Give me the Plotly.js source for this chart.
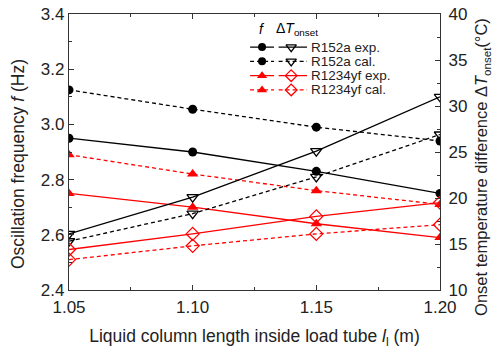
<!DOCTYPE html>
<html><head><meta charset="utf-8">
<script src="https://cdn.plot.ly/plotly-3.0.1.min.js"></script>
<style>body{margin:0;background:#fff}#c{width:493px;height:356px}</style>
</head><body><div id="c"></div>
<script>
const lengths = [1.05, 1.10, 1.15, 1.20];
const fR152aExp = [2.95, 2.90, 2.83, 2.75];
const fR152aCal = [3.125, 3.055, 2.99, 2.94];
const fR1234yfExp = [2.75, 2.70, 2.64, 2.59];
const fR1234yfCal = [2.89, 2.82, 2.76, 2.71];
const dTR152aExp = [16.1, 20.1, 25.1, 31.0];
const dTR152aCal = [15.3, 18.3, 22.3, 26.9];
const dTR1234yfExp = [14.4, 16.1, 18.0, 19.5];
const dTR1234yfCal = [13.3, 14.8, 16.1, 17.1];
const seriesNames = ['R152a exp.', 'R152a cal.', 'R1234yf exp.', 'R1234yf cal.'];

const BLK = '#000000', RED = '#ff0000';
const DASH = '4px,3px';
const styles = [
  {c: BLK, dash: 'solid', fs: 'circle', ts: 'triangle-down-open'},
  {c: BLK, dash: DASH, fs: 'circle', ts: 'triangle-down-open'},
  {c: RED, dash: 'solid', fs: 'triangle-up', ts: 'diamond-open'},
  {c: RED, dash: DASH, fs: 'triangle-up', ts: 'diamond-open'}
];
const fData = [fR152aExp, fR152aCal, fR1234yfExp, fR1234yfCal];
const dTData = [dTR152aExp, dTR152aCal, dTR1234yfExp, dTR1234yfCal];

const traces = [];
fData.forEach((ys, i) => {
  const s = styles[i];
  traces.push({x: lengths, y: ys, mode: 'lines+markers', xaxis: 'x', yaxis: 'y', showlegend: false,
    line: {color: s.c, width: 1.3, dash: s.dash},
    marker: {symbol: s.fs, size: s.fs === 'circle' ? 9 : 10, color: s.c}});
});
dTData.forEach((ys, i) => {
  const s = styles[i];
  traces.push({x: lengths, y: ys, mode: 'lines+markers', xaxis: 'x', yaxis: 'y2', showlegend: false,
    line: {color: s.c, width: 1.3, dash: s.dash},
    marker: {symbol: s.ts, size: 10, color: s.c, line: {width: 1.3, color: s.c}}});
});

// manual two-column legend on a hidden helper axis
const legX = [0, 0.42, null, 0.5, 1];
const fSymX = 0.21, tSymX = 0.72;
const rowPaperY = [0.880, 0.828, 0.777, 0.725];
const annotations = [];
seriesNames.forEach((name, i) => {
  const s = styles[i];
  const row = i + 1;
  traces.push({x: legX, y: legX.map(v => v === null ? null : row), mode: 'lines', xaxis: 'x3', yaxis: 'y3',
    showlegend: false, hoverinfo: 'skip', cliponaxis: false, connectgaps: false,
    line: {color: s.c, width: 1.3, dash: s.dash}});
  traces.push({x: [fSymX], y: [row], mode: 'markers', xaxis: 'x3', yaxis: 'y3', showlegend: false, cliponaxis: false,
    marker: {symbol: s.fs, size: s.fs === 'circle' ? 8 : 9, color: s.c}});
  traces.push({x: [tSymX], y: [row], mode: 'markers', xaxis: 'x3', yaxis: 'y3', showlegend: false, cliponaxis: false,
    marker: {symbol: s.ts, size: 9, color: s.c, line: {width: 1.3, color: s.c}}});
  annotations.push({xref: 'paper', yref: 'paper', x: 0.647, y: rowPaperY[i], text: name, showarrow: false,
    xanchor: 'left', yanchor: 'middle', font: {size: 13.5, color: '#222'}});
});
annotations.push({xref: 'paper', yref: 'paper', x: 0.520, y: 0.945, text: '<i>f</i>', showarrow: false,
  xanchor: 'center', yanchor: 'middle', font: {size: 14, color: '#000'}});
annotations.push({xref: 'paper', yref: 'paper', x: 0.615, y: 0.945, text: 'Δ<i>T</i><sub>onset</sub>', showarrow: false,
  xanchor: 'center', yanchor: 'middle', font: {size: 14, color: '#000'}});
// y-axis titles (placed as rotated text)
annotations.push({xref: 'paper', yref: 'paper', x: -0.137, y: 0.457, textangle: -90,
  text: 'Oscillation frequency <i>f</i> (Hz)', showarrow: false, xanchor: 'center', yanchor: 'middle',
  font: {size: 17.5, color: '#222'}});
annotations.push({xref: 'paper', yref: 'paper', x: 1.1132, y: 0.446, textangle: -90,
  text: 'Onset temperature difference Δ<i>T</i><sub>onset</sub>(°C)', showarrow: false, xanchor: 'center', yanchor: 'middle',
  font: {size: 16.5, color: '#222'}});

const FONT = 'Liberation Sans, Arial, sans-serif';
const AX = '#333';
const layout = {
  width: 493, height: 356,
  margin: {l: 69, r: 53, t: 14, b: 66},
  paper_bgcolor: '#fff', plot_bgcolor: '#fff',
  font: {family: FONT, size: 17, color: '#222'},
  showlegend: false,
  xaxis: {range: [1.05, 1.20], dtick: 0.05, tick0: 1.05, tickformat: '.2f',
    ticks: 'inside', ticklen: 5, tickcolor: AX, showline: true, linecolor: AX, linewidth: 1.2,
    mirror: 'ticks', showgrid: false, zeroline: false,
    minor: {dtick: 0.025, ticks: 'inside', ticklen: 3, tickcolor: AX, showgrid: false},
    tickfont: {size: 17}, ticklabelstandoff: 1,
    title: {text: 'Liquid column length inside load tube <i>l</i><sub>l</sub> (m)', font: {size: 17.5}, standoff: 14}},
  yaxis: {range: [2.4, 3.4], dtick: 0.2, tick0: 2.4, tickformat: '.1f',
    ticks: 'inside', ticklen: 5, tickcolor: AX, showline: true, linecolor: AX, linewidth: 1.2,
    showgrid: false, zeroline: false,
    minor: {dtick: 0.1, ticks: 'inside', ticklen: 3, tickcolor: AX, showgrid: false},
    tickfont: {size: 17}},
  yaxis2: {range: [10, 40], dtick: 5, tick0: 10, overlaying: 'y', side: 'right', anchor: 'x',
    ticks: 'inside', ticklen: 5, tickcolor: AX, showline: true, linecolor: AX, linewidth: 1.2,
    showgrid: false, zeroline: false,
    minor: {dtick: 2.5, ticks: 'inside', ticklen: 3, tickcolor: AX, showgrid: false},
    tickfont: {size: 17}, ticklabelstandoff: 4},
  xaxis3: {domain: [0.488, 0.642], range: [0, 1], anchor: 'y3', visible: false, fixedrange: true},
  yaxis3: {domain: [0.699, 0.906], range: [4.5, 0.5], anchor: 'x3', visible: false, fixedrange: true},
  annotations: annotations
};
Plotly.newPlot('c', traces, layout, {displayModeBar: false, staticPlot: true});
</script></body></html>
